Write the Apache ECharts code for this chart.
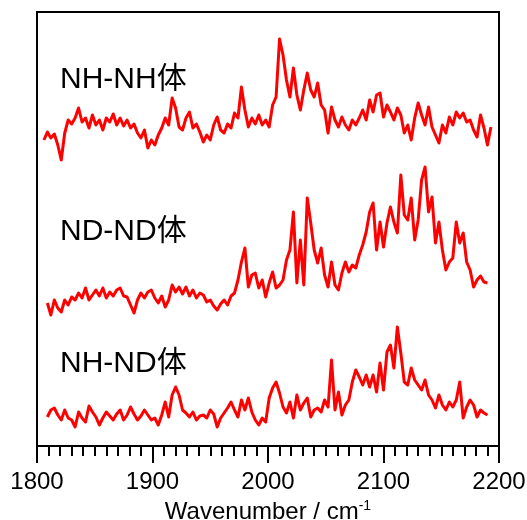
<!DOCTYPE html>
<html>
<head>
<meta charset="utf-8">
<script src="https://cdn.jsdelivr.net/npm/echarts@6/dist/echarts.min.js"></script>
<style>html,body{margin:0;padding:0;background:#fff}#c{width:527px;height:520px}</style>
</head>
<body>
<div id="c"></div>
<script>
// Wavenumber grid (cm^-1)
const wavenumber = [
1806,1809,1812,1815,1818,1821,1824,1827,1830,1833,
1836,1839,1842,1845,1848,1851,1854,1857,1860,1863,
1866,1869,1872,1875,1878,1881,1884,1887,1890,1893,
1896,1899,1902,1905,1908,1911,1914,1917,1920,1923,
1926,1929,1932,1935,1938,1941,1944,1947,1950,1953,
1956,1959,1962,1965,1968,1971,1974,1977,1980,1983,
1986,1989,1992,1995,1998,2001,2004,2007,2010,2013,
2016,2019,2022,2025,2028,2031,2034,2037,2040,2043,
2046,2049,2052,2055,2058,2061,2064,2067,2070,2073,
2076,2079,2082,2085,2088,2091,2094,2097,2100,2103,
2106,2109,2112,2115,2118,2121,2124,2127,2130,2133,
2136,2139,2142,2145,2148,2151,2154,2157,2160,2163,
2166,2169,2172,2175,2178,2181,2184,2187,2190,2193];

// Offset spectra (arbitrary units)
const nhnh = [
306,314,308,312,301,286,313,326,322,328,
338,324,328,318,331,321,326,316,328,324,
332,321,328,320,326,318,322,313,308,316,
298,306,301,311,318,328,321,348,338,319,
316,328,334,318,322,314,304,311,306,321,
329,316,313,322,318,333,328,359,336,319,
328,322,331,321,326,319,341,349,407,391,
366,349,378,351,336,356,373,356,349,363,
341,336,313,339,326,319,329,321,316,326,
321,328,336,326,346,334,351,353,329,341,
334,326,338,331,313,321,306,328,343,331,
321,339,319,311,303,321,313,329,321,334,
328,333,324,326,316,309,331,318,301,319];

const ndnd = [
null,143,131,146,138,134,146,141,149,146,
153,148,158,146,151,156,150,158,148,154,
150,156,158,150,149,141,133,146,153,148,
154,156,148,143,150,139,146,161,154,159,
152,159,150,156,148,153,151,144,146,140,
136,142,146,141,150,153,166,184,198,159,
171,173,158,166,149,163,174,158,161,166,
186,196,234,163,206,161,248,223,196,183,
198,171,159,184,161,156,173,184,174,181,
178,191,201,214,234,243,196,224,199,223,
239,224,213,271,231,226,248,206,226,266,
279,234,249,203,224,196,176,184,188,224,
203,213,184,176,159,166,170,164,163,null];

const nhnd = [
null,29,36,38,31,26,36,28,26,19,
34,28,24,40,34,29,21,28,34,30,
26,32,36,26,31,39,32,26,30,36,
31,26,28,21,31,44,29,51,59,51,
36,33,29,34,26,30,31,28,36,32,
19,28,33,38,44,36,29,46,36,48,
34,26,21,28,24,48,58,64,53,39,
33,44,28,51,36,43,48,29,36,38,
34,46,39,86,36,54,31,41,46,64,
76,69,61,71,59,71,54,83,56,94,
101,78,119,93,64,61,78,66,61,56,
66,51,46,38,51,41,36,44,39,46,
64,28,39,46,41,29,36,33,31,null];

const seriesNames = ['NH-NH体', 'ND-ND体', 'NH-ND体'];
const xTicks = [1800, 1900, 2000, 2100, 2200];

function pairs(ys) { return wavenumber.map((x, i) => [x, ys[i]]); }

const FONT = '"Liberation Sans", Arial, "Noto Sans CJK JP", sans-serif';
const chart = echarts.init(document.getElementById('c'));
const mkSeries = (name, ys) => ({
  name, type: 'line', data: pairs(ys), showSymbol: false, symbol: 'none',
  lineStyle: { color: '#ff0000', width: 3, join: 'round' }, connectNulls: false, animation: false
});
const label = (text, y) => ({
  type: 'text', x: 60, y,
  style: { text, fontSize: 30, fontFamily: FONT, fill: '#000', verticalAlign: 'middle', align: 'left' }
});

chart.setOption({
  animation: false,
  grid: { left: 37, right: 28, top: 12, bottom: 74, show: true, borderColor: '#000', borderWidth: 2, backgroundColor: 'transparent', containLabel: false, outerBoundsMode: 'none' },
  xAxis: {
    type: 'value', min: xTicks[0], max: xTicks[xTicks.length - 1], interval: 100,
    axisLine: { show: true, lineStyle: { color: '#000', width: 2 } },
    axisTick: { show: true, inside: false, length: 17, lineStyle: { color: '#000', width: 2 } },
    minorTick: { show: true, splitNumber: 10, length: 10, lineStyle: { color: '#000', width: 2 } },
    splitLine: { show: false },
    axisLabel: { color: '#000', fontSize: 24, fontFamily: FONT, margin: 24, formatter: v => String(v) },
    name: 'Wavenumber / cm{sup|-1}',
    nameLocation: 'middle', nameGap: 53,
    nameTextStyle: {
      color: '#000', fontSize: 24, fontFamily: FONT,
      rich: { sup: { fontSize: 14, fontFamily: FONT, color: '#000', verticalAlign: 'top', padding: [0, 0, 13, 0] } }
    }
  },
  yAxis: { type: 'value', min: 0, max: 434, show: false, splitLine: { show: false } },
  graphic: [label(seriesNames[0], 80), label(seriesNames[1], 232), label(seriesNames[2], 364)],
  series: [mkSeries(seriesNames[0], nhnh), mkSeries(seriesNames[1], ndnd), mkSeries(seriesNames[2], nhnd)]
});
</script>
</body>
</html>
